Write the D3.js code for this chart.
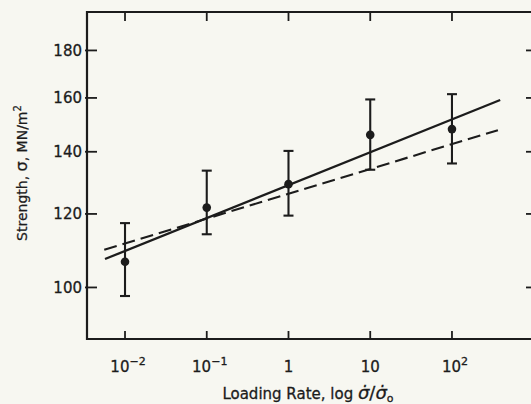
<!DOCTYPE html>
<html>
<head>
<meta charset="utf-8">
<script src="https://cdn.jsdelivr.net/npm/d3@7"></script>
<style>
  html, body { margin: 0; padding: 0; background: #f7f7f1; }
  svg { display: block; }
  text { font-family: "DejaVu Sans", sans-serif; fill: #1c1c1c; }
</style>
</head>
<body>
<svg id="chart" width="531" height="404"></svg>
<script>
// loading rate (log) vs strength, with error bars
const rates = [0.01, 0.1, 1, 10, 100];
const strength = [106.6, 121.9, 129.2, 146.0, 148.1];
const errHigh = [117.3, 133.6, 140.3, 159.4, 161.5];
const errLow = [97.9, 114.1, 119.5, 133.9, 136.0];

// fitted lines: two end points each
const solidFit = [[10 ** -2.245, 107.3], [10 ** 2.59, 159.2]];
const dashedFit = [[10 ** -2.254, 109.8], [10 ** 2.562, 147.7]];

const yTicks = [100, 120, 140, 160, 180];
const xTicks = [0.01, 0.1, 1, 10, 100];
const xTickLabels = [["10", "-2"], ["10", "-1"], ["1", ""], ["10", ""], ["10", "2"]];

const ink = "#1c1c1c";
const svg = d3.select("#chart");

const plotLeft = 87, plotRight = 536, plotTop = 12, plotBottom = 339;

const x = d3.scaleLog().domain([10 ** -2.465, 10 ** 3.028]).range([plotLeft, plotRight]);
const y = d3.scaleLog().domain([88, 198]).range([plotBottom, plotTop]);

// frame (right side runs off the picture)
svg.append("path")
    .attr("d", `M${plotRight},${plotTop}H${plotLeft}V${plotBottom}H${plotRight}`)
    .attr("fill", "none")
    .attr("stroke", ink)
    .attr("stroke-width", 2.2);

// ticks, all pointing inward
const ticks = svg.append("g").attr("stroke", ink).attr("stroke-width", 1.8);
ticks.selectAll(".tb").data(xTicks).enter().append("line")
    .attr("x1", d => x(d)).attr("x2", d => x(d))
    .attr("y1", plotBottom).attr("y2", plotBottom - 8);
ticks.selectAll(".tt").data(xTicks).enter().append("line")
    .attr("x1", d => x(d)).attr("x2", d => x(d))
    .attr("y1", plotTop).attr("y2", plotTop + 9);
ticks.selectAll(".tl").data(yTicks).enter().append("line")
    .attr("x1", plotLeft - 2).attr("x2", plotLeft + 10)
    .attr("y1", d => y(d)).attr("y2", d => y(d));
ticks.selectAll(".tr").data(yTicks).enter().append("line")
    .attr("x1", 526).attr("x2", 531)
    .attr("y1", d => y(d)).attr("y2", d => y(d));

// y tick labels
svg.append("g").selectAll("text").data(yTicks).enter().append("text")
    .attr("x", plotLeft - 5)
    .attr("y", d => y(d))
    .attr("dy", "0.36em")
    .attr("text-anchor", "end")
    .attr("font-size", 15)
    .attr("stroke", ink).attr("stroke-width", 0.3)
    .text(d => d);

// x tick labels with superscripts
const xl = svg.append("g").selectAll("text").data(xTicks).enter().append("text")
    .attr("x", (d, i) => x(d) + (xTickLabels[i][1] ? 3 : 0))
    .attr("y", 372)
    .attr("text-anchor", "middle")
    .attr("font-size", 15)
    .attr("stroke", ink).attr("stroke-width", 0.3);
xl.append("tspan").text((d, i) => xTickLabels[i][0]);
xl.append("tspan")
    .attr("dy", -7)
    .attr("font-size", 11)
    .text((d, i) => xTickLabels[i][1].replace("-", "\u2212"));

// axis titles
const xt = svg.append("text")
    .attr("x", 308).attr("y", 399)
    .attr("text-anchor", "middle")
    .attr("font-size", 15)
    .attr("stroke", ink).attr("stroke-width", 0.3);
xt.append("tspan").text("Loading Rate,  log ");
xt.append("tspan").attr("font-style", "italic").attr("font-size", 18).text("\u03C3\u0307");
xt.append("tspan").attr("font-size", 18).text("/");
xt.append("tspan").attr("font-style", "italic").attr("font-size", 18).text("\u03C3\u0307");
xt.append("tspan").attr("dy", 3).attr("font-size", 11).text("o");

const yt = svg.append("text")
    .attr("transform", "translate(27,173) rotate(-90)")
    .attr("text-anchor", "middle")
    .attr("font-size", 14)
    .attr("stroke", ink).attr("stroke-width", 0.25);
yt.append("tspan").text("Strength, ");
yt.append("tspan").attr("font-size", 16).text("\u03C3");
yt.append("tspan").text(", MN/m");
yt.append("tspan").attr("dy", -6).attr("font-size", 10).text("2");

// fitted lines
const line = d3.line().x(d => x(d[0])).y(d => y(d[1]));
svg.append("path")
    .attr("d", line(solidFit))
    .attr("fill", "none")
    .attr("stroke", ink)
    .attr("stroke-width", 2.3);
svg.append("path")
    .attr("d", line(dashedFit))
    .attr("fill", "none")
    .attr("stroke", ink)
    .attr("stroke-width", 2.1)
    .attr("stroke-dasharray", "13,6");

// error bars
const eb = svg.append("g").attr("stroke", ink).attr("stroke-width", 2.1);
eb.selectAll(".v").data(rates).enter().append("line")
    .attr("x1", d => x(d)).attr("x2", d => x(d))
    .attr("y1", (d, i) => y(errHigh[i])).attr("y2", (d, i) => y(errLow[i]));
eb.selectAll(".h").data(rates).enter().append("line")
    .attr("x1", d => x(d) - 5).attr("x2", d => x(d) + 5)
    .attr("y1", (d, i) => y(errHigh[i])).attr("y2", (d, i) => y(errHigh[i]));
eb.selectAll(".l").data(rates).enter().append("line")
    .attr("x1", d => x(d) - 5).attr("x2", d => x(d) + 5)
    .attr("y1", (d, i) => y(errLow[i])).attr("y2", (d, i) => y(errLow[i]));

// data points
svg.append("g").selectAll("circle").data(rates).enter().append("circle")
    .attr("cx", d => x(d))
    .attr("cy", (d, i) => y(strength[i]))
    .attr("r", 4.3)
    .attr("fill", ink);
</script>
</body>
</html>
